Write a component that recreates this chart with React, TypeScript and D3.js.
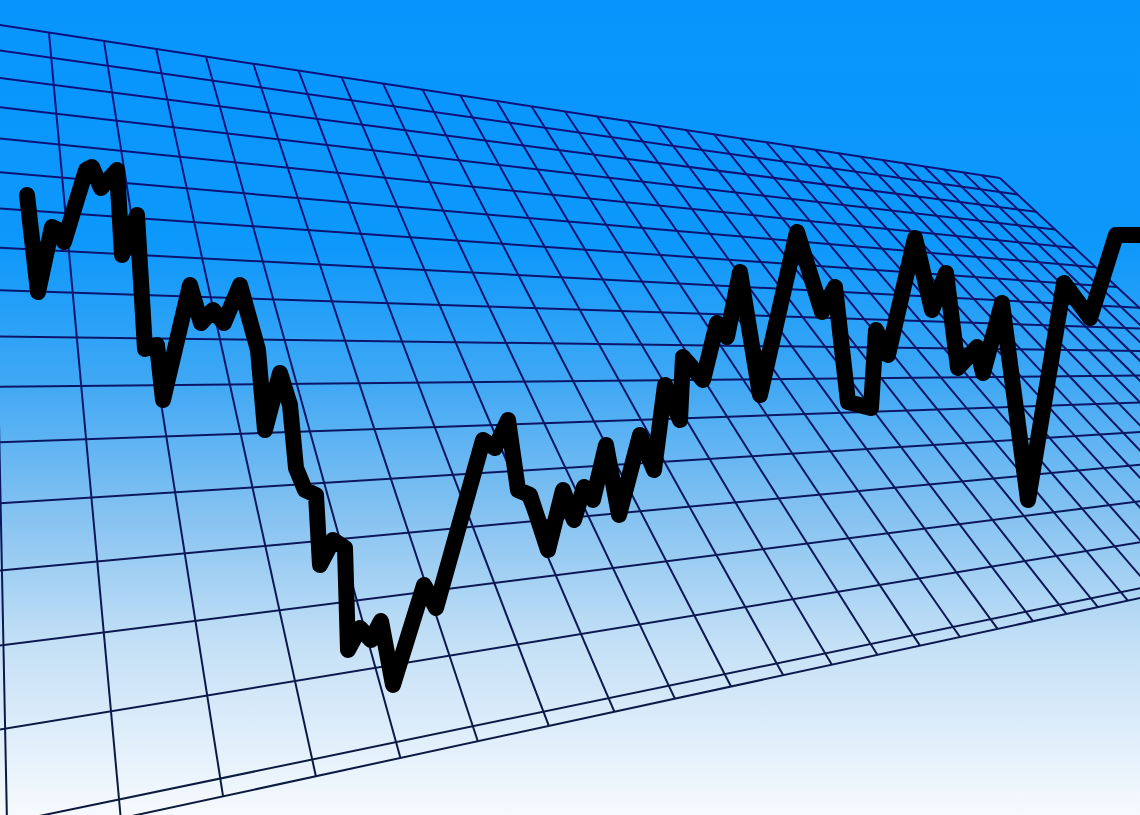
import React from "react";
import * as d3 from "d3";

// ---- data: the black price line (x position, price level) ----
const pointX = [27, 38, 52, 60, 64, 86, 92, 101, 117, 122, 137, 145, 157, 163, 190, 201, 213, 224, 240, 258, 265, 280, 290, 296, 305, 316, 320, 333, 345, 348, 360, 371, 381, 393, 424, 436, 483, 495, 508, 518, 530, 548, 563, 574, 584, 593, 606, 619, 640, 654, 665, 680, 683, 703, 717, 727, 740, 760, 797, 822, 835, 848, 871, 876, 888, 915, 932, 946, 958, 977, 983, 1002, 1028, 1064, 1090, 1116, 1140];
const pointPrice = [620, 523, 588, 584, 573, 645, 648, 627, 645, 560, 600, 466, 470, 415, 530, 492, 505, 492, 530, 465, 385, 442, 410, 347, 325, 320, 250, 275, 267, 165, 187, 175, 194, 130, 230, 207, 375, 367, 395, 325, 320, 265, 325, 295, 328, 315, 370, 300, 380, 345, 430, 395, 458, 435, 492, 478, 543, 420, 583, 503, 528, 413, 407, 485, 460, 577, 505, 542, 447, 468, 442, 512, 315, 532, 497, 580, 580];

// ---- grid: column and row indices of the perspective plane ----
const gridColumns = [-3, -2, -1, 0, 1, 2, 3, 4, 5, 6, 7, 8, 9, 10, 11, 12, 13, 14, 15, 16, 17, 18, 19, 20, 21, 22, 23, 24, 25, 26, 27, 28, 29, 30, 31];
const gridRows = [0, 1, 2, 3, 4, 5, 6, 7, 8, 9, 10, 11, 12, 13, 14, 15, 16, 16.2];

const W = 1140;
const H = 815;

// perspective (homography) parameters of the grid plane
const persp = {
  alpha: 0.02668,
  beta: -0.03124,
  v1: [2219.6, 364.7],
  v2: [-25, -776],
  o: [-9, 23.6],
};

function project(u: number, v: number): [number, number] {
  const a = persp.alpha * u;
  const b = persp.beta * v;
  const w = a + b + 1;
  const x = (a * persp.v1[0] + b * persp.v2[0] + persp.o[0]) / w;
  const y = (a * persp.v1[1] + b * persp.v2[1] + persp.o[1]) / w;
  return [x, y];
}

export default function App() {
  const xScale = d3.scaleLinear().domain([0, 1140]).range([0, W]);
  const yScale = d3.scaleLinear().domain([0, 815]).range([H, 0]);

  const pts = pointX.map((x, i) => [x, pointPrice[i]] as [number, number]);
  const lineGen = d3
    .line<[number, number]>()
    .x((d) => xScale(d[0]))
    .y((d) => yScale(d[1]));
  const pathD = lineGen(pts) || "";

  const uMin = gridColumns[0];
  const uMax = gridColumns[gridColumns.length - 1];
  const vMin = gridRows[0];
  const vMax = gridRows[gridRows.length - 1];

  const segs: [number, number, number, number][] = [];
  gridRows.forEach((v) => {
    const p1 = project(uMin, v);
    const p2 = project(uMax, v);
    segs.push([p1[0], p1[1], p2[0], p2[1]]);
  });
  gridColumns.forEach((u) => {
    const p1 = project(u, vMin);
    const p2 = project(u, vMax);
    segs.push([p1[0], p1[1], p2[0], p2[1]]);
  });

  return (
    <svg
      width={W}
      height={H}
      viewBox={`0 0 ${W} ${H}`}
      style={{ position: "fixed", left: 0, top: 0, display: "block" }}
    >
      <defs>
        <linearGradient id="bg" x1="0" y1="0" x2="0" y2="1">
          <stop offset="0" stopColor="#0795fd" />
          <stop offset="0.3" stopColor="#0d98fb" />
          <stop offset="0.47" stopColor="#40a8f4" />
          <stop offset="0.63" stopColor="#84c2f1" />
          <stop offset="0.79" stopColor="#c4e0f6" />
          <stop offset="1" stopColor="#f6fafe" />
        </linearGradient>
        <linearGradient id="gridStroke" gradientUnits="userSpaceOnUse" x1="0" y1="0" x2="0" y2={H}>
          <stop offset="0" stopColor="#0a1082" />
          <stop offset="0.5" stopColor="#0b1666" />
          <stop offset="1" stopColor="#0c1a3c" />
        </linearGradient>
      </defs>
      <rect x={0} y={0} width={W} height={H} fill="url(#bg)" />
      <g stroke="url(#gridStroke)" strokeWidth={2} fill="none">
        {segs.map((s, i) => (
          <line key={i} x1={s[0]} y1={s[1]} x2={s[2]} y2={s[3]} />
        ))}
      </g>
      <path
        d={pathD}
        fill="none"
        stroke="#000"
        strokeWidth={16}
        strokeLinejoin="round"
        strokeLinecap="round"
      />
    </svg>
  );
}
